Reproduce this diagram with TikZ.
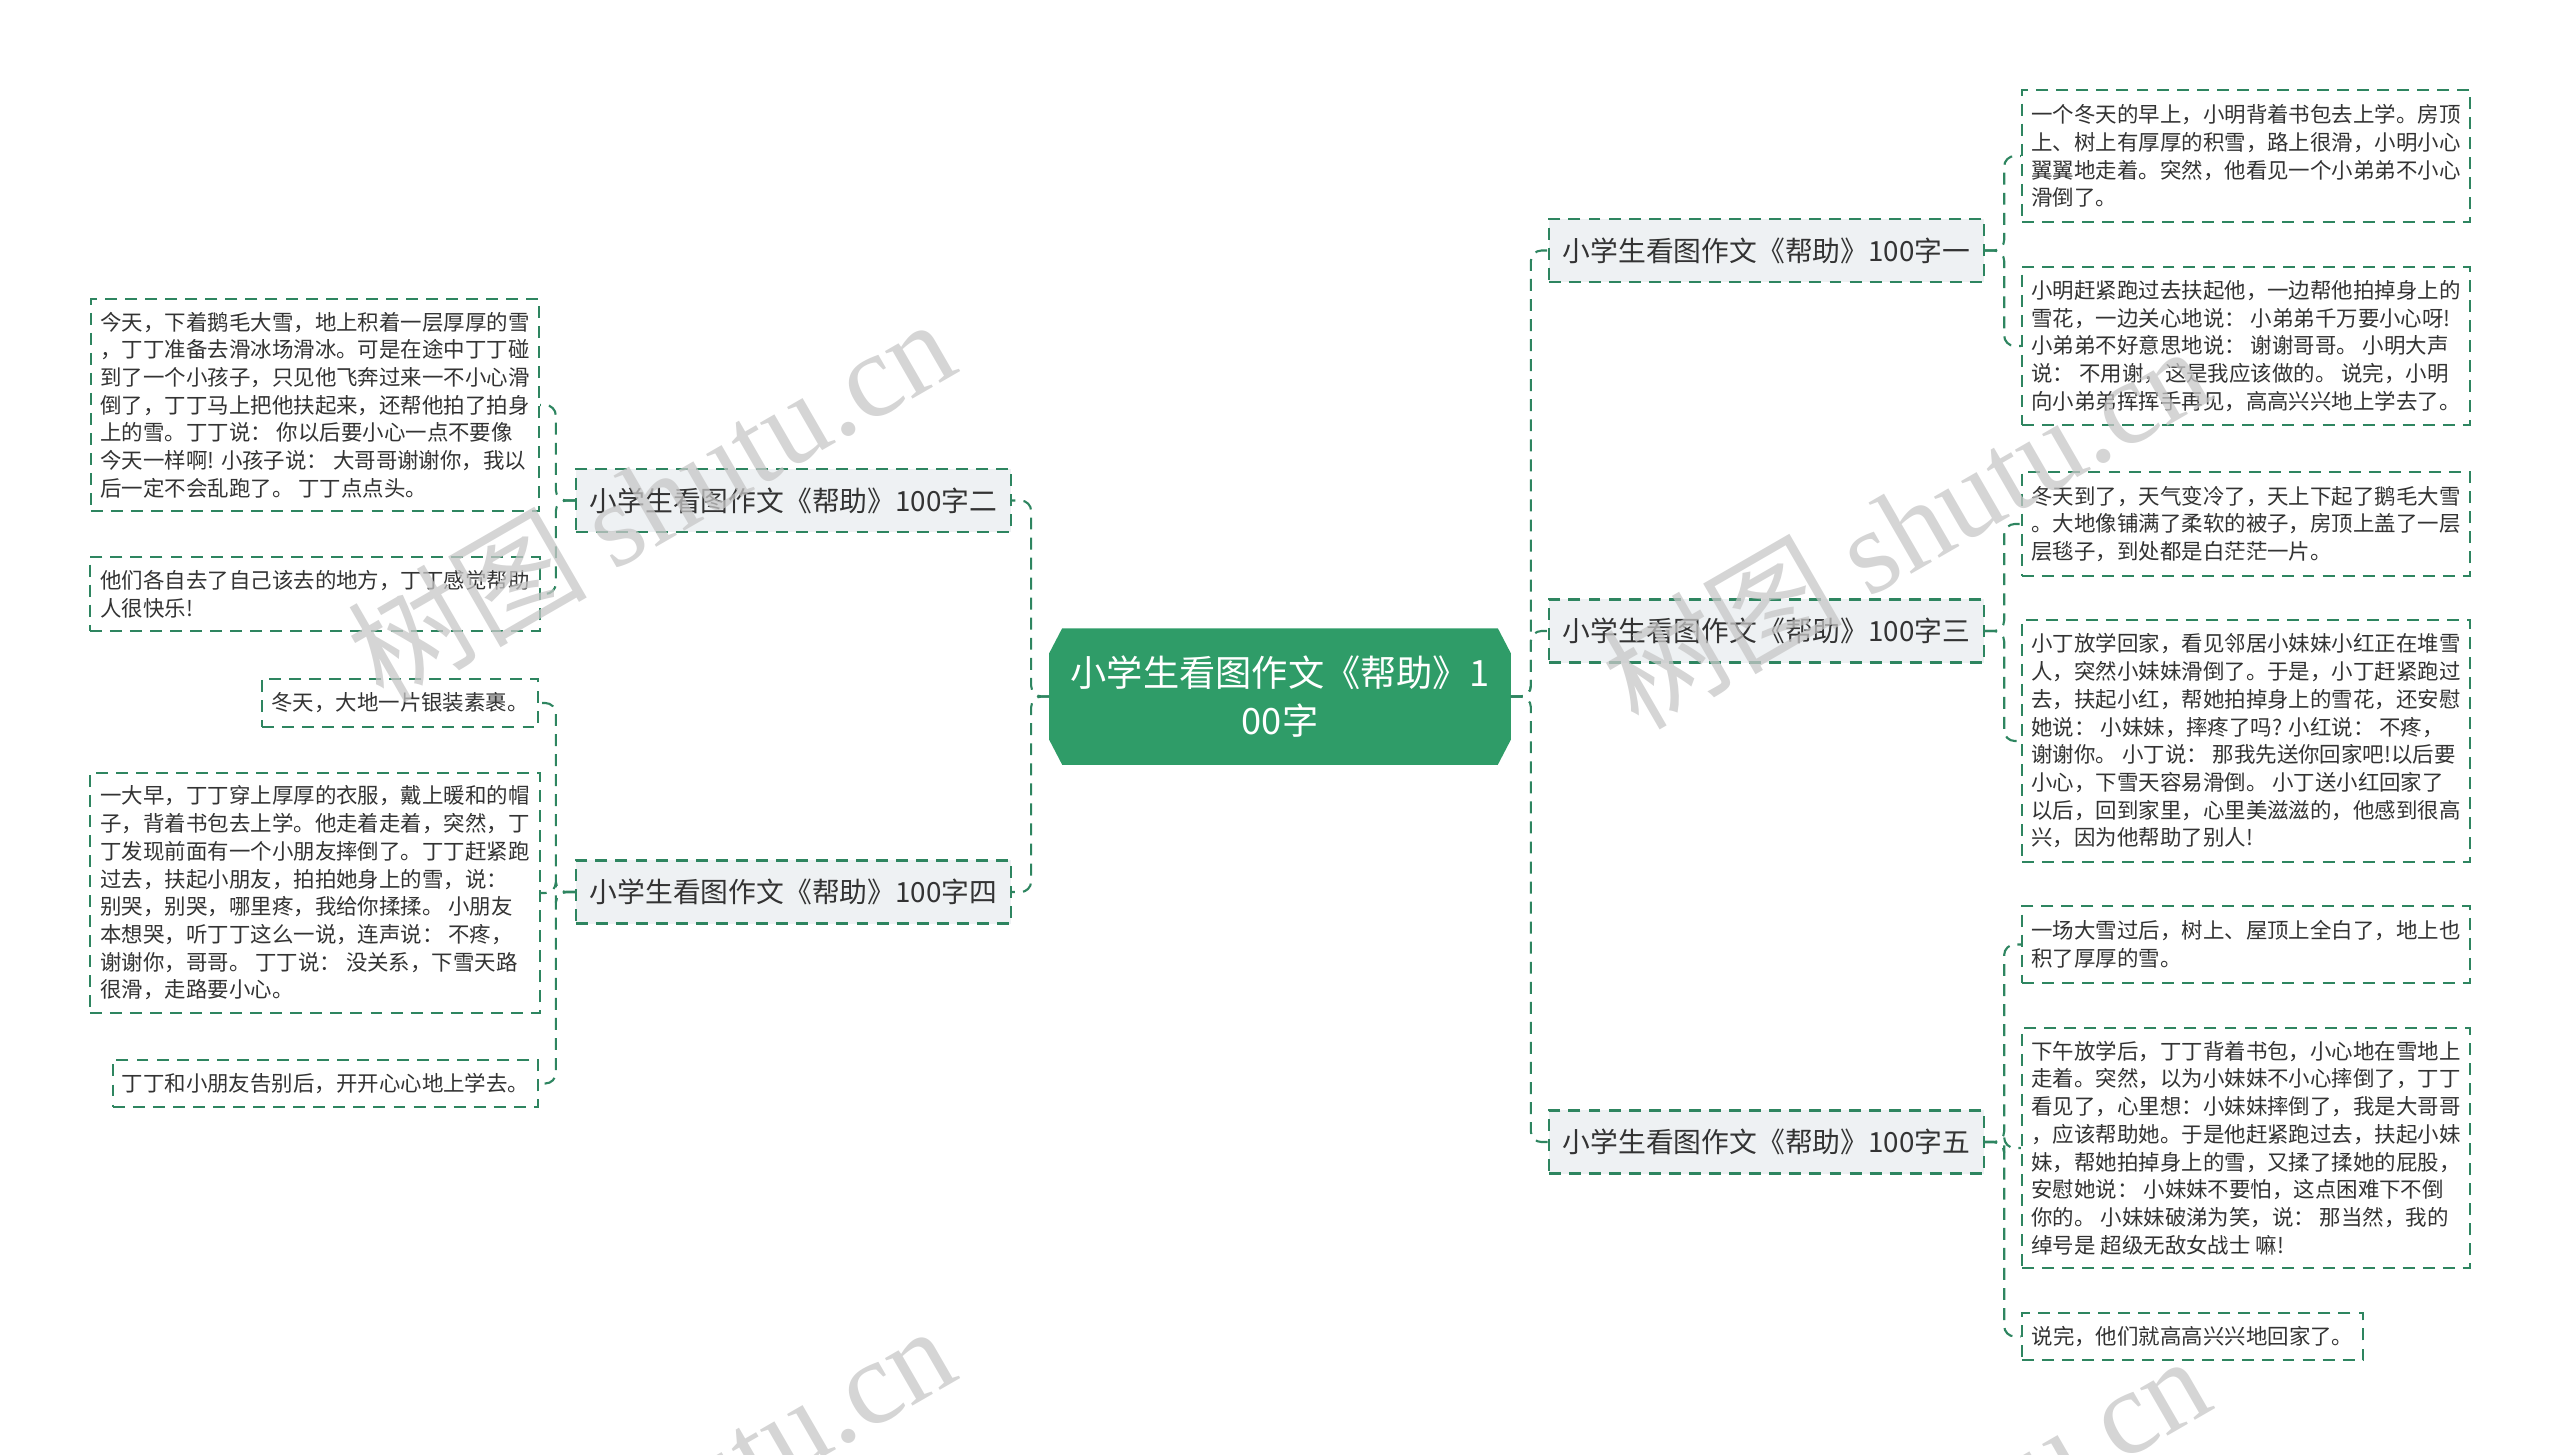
\documentclass[tikz,border=0pt]{standalone}
\usepackage{fontspec}
\setmainfont{Noto Sans CJK SC}
\newfontfamily\wmfont{Liberation Serif}
\usepackage{xcolor}
\usepackage{tikz}
\usetikzlibrary{backgrounds}
\definecolor{rootgreen}{HTML}{2F9C68}
\definecolor{linegreen}{HTML}{2E8560}
\definecolor{boxgray}{HTML}{EEF1F3}
\definecolor{textgray}{HTML}{333333}

\begin{document}
\begin{tikzpicture}[x=0.01cm,y=-0.01cm,
	dashpattern/.style={line width=0.6pt,dash pattern=on 3.4pt off 2.3pt},
	rootbox/.style={minimum width=4.6cm,minimum height=1.35cm,inner sep=0pt,align=center,text=white,font=\fontsize{10.3pt}{13.4pt}\selectfont},
	branchbox/.style={draw=linegreen,dashpattern,fill=boxgray,minimum width=4.35cm,minimum height=0.63cm,inner sep=0pt,text=textgray,font=\fontsize{7.9pt}{9pt}\selectfont},
	leafbox/.style={draw=linegreen,dashpattern,fill=white,inner sep=0pt,align=left,text=textgray,font=\fontsize{6.1pt}{7.88pt}\selectfont},
	linkline/.style={draw=linegreen,dashpattern,rounded corners=3pt},
	wmark/.style={rotate=30,text=black!22,opacity=0.75,font=\fontsize{34pt}{34pt}\selectfont}]
		\useasboundingbox (0,0) rectangle (2560,1454);
		% 绘制中心主题
		\node[rootbox] (root) at (1280,696.5) {小学生看图作文《帮助》1\\00字};
		\begin{scope}[on background layer]
			\fill[rootgreen] ([xshift=0.13cm]root.north west) -- ([xshift=-0.13cm]root.north east)
				-- ([yshift=-0.25cm]root.north east) -- ([yshift=0.25cm]root.south east)
				-- ([xshift=-0.13cm]root.south east) -- ([xshift=0.13cm]root.south west)
				-- ([yshift=0.25cm]root.south west) -- ([yshift=-0.25cm]root.north west) -- cycle;
		\end{scope}
		% 绘制分支
		\node[branchbox] (b1) at (1766.5,250.5) {小学生看图作文《帮助》100字一};
		\node[branchbox] (b2) at (793.5,500.5) {小学生看图作文《帮助》100字二};
		\node[branchbox] (b3) at (1766.5,631) {小学生看图作文《帮助》100字三};
		\node[branchbox] (b4) at (793.5,892) {小学生看图作文《帮助》100字四};
		\node[branchbox] (b5) at (1766.5,1142) {小学生看图作文《帮助》100字五};
		% 绘制左侧内容
		\node[leafbox,minimum width=4.48cm,minimum height=2.12cm] (l1) at (315,405) {今天，下着鹅毛大雪，地上积着一层厚厚的雪\\，丁丁准备去滑冰场滑冰。可是在途中丁丁碰\\到了一个小孩子，只见他飞奔过来一不小心滑\\倒了，丁丁马上把他扶起来，还帮他拍了拍身\\上的雪。丁丁说： 你以后要小心一点不要像\\今天一样啊! 小孩子说： 大哥哥谢谢你，我以\\后一定不会乱跑了。 丁丁点点头。};
		\node[leafbox,minimum width=4.5cm,minimum height=0.74cm] (l2) at (315,594) {他们各自去了自己该去的地方，丁丁感觉帮助\\人很快乐!};
		\node[leafbox,minimum width=2.76cm,minimum height=0.48cm] (l3) at (400,703) {冬天，大地一片银装素裹。};
		\node[leafbox,minimum width=4.5cm,minimum height=2.4cm] (l4) at (315,893) {一大早，丁丁穿上厚厚的衣服，戴上暖和的帽\\子，背着书包去上学。他走着走着，突然，丁\\丁发现前面有一个小朋友摔倒了。丁丁赶紧跑\\过去，扶起小朋友，拍拍她身上的雪，说：\\别哭，别哭，哪里疼，我给你揉揉。 小朋友\\本想哭，听丁丁这么一说，连声说： 不疼，\\谢谢你，哥哥。 丁丁说： 没关系，下雪天路\\很滑，走路要小心。};
		\node[leafbox,minimum width=4.25cm,minimum height=0.47cm] (l5) at (325.5,1083.5) {丁丁和小朋友告别后，开开心心地上学去。};
		% 绘制右侧内容
		\node[leafbox,minimum width=4.48cm,minimum height=1.32cm] (r1) at (2246,156) {一个冬天的早上，小明背着书包去上学。房顶\\上、树上有厚厚的积雪，路上很滑，小明小心\\翼翼地走着。突然，他看见一个小弟弟不小心\\滑倒了。};
		\node[leafbox,minimum width=4.48cm,minimum height=1.58cm] (r2) at (2246,346) {小明赶紧跑过去扶起他，一边帮他拍掉身上的\\雪花，一边关心地说： 小弟弟千万要小心呀!\\小弟弟不好意思地说： 谢谢哥哥。 小明大声\\说： 不用谢，这是我应该做的。 说完，小明\\向小弟弟挥挥手再见，高高兴兴地上学去了。};
		\node[leafbox,minimum width=4.48cm,minimum height=1.04cm] (r3) at (2246,524) {冬天到了，天气变冷了，天上下起了鹅毛大雪\\。大地像铺满了柔软的被子，房顶上盖了一层\\层毯子，到处都是白茫茫一片。};
		\node[leafbox,minimum width=4.48cm,minimum height=2.42cm] (r4) at (2246,741) {小丁放学回家，看见邻居小妹妹小红正在堆雪\\人，突然小妹妹滑倒了。于是，小丁赶紧跑过\\去，扶起小红，帮她拍掉身上的雪花，还安慰\\她说： 小妹妹，摔疼了吗? 小红说： 不疼，\\谢谢你。 小丁说： 那我先送你回家吧!以后要\\小心，下雪天容易滑倒。 小丁送小红回家了\\以后，回到家里，心里美滋滋的，他感到很高\\兴，因为他帮助了别人!};
		\node[leafbox,minimum width=4.48cm,minimum height=0.77cm] (r5) at (2246,944.5) {一场大雪过后，树上、屋顶上全白了，地上也\\积了厚厚的雪。};
		\node[leafbox,minimum width=4.48cm,minimum height=2.4cm] (r6) at (2246,1148) {下午放学后，丁丁背着书包，小心地在雪地上\\走着。突然，以为小妹妹不小心摔倒了，丁丁\\看见了，心里想：小妹妹摔倒了，我是大哥哥\\，应该帮助她。于是他赶紧跑过去，扶起小妹\\妹，帮她拍掉身上的雪，又揉了揉她的屁股，\\安慰她说： 小妹妹不要怕，这点困难下不倒\\你的。 小妹妹破涕为笑，说： 那当然，我的\\绰号是 超级无敌女战士 嘛!};
		\node[leafbox,minimum width=3.41cm,minimum height=0.47cm] (r7) at (2192.5,1336.5) {说完，他们就高高兴兴地回家了。};
		% 绘制连线
		\foreach \b in {b2,b4}
			\draw[linkline] (root.west) -- ++(-18,0) |- (\b.east);
		\foreach \b in {b1,b3,b5}
			\draw[linkline] (root.east) -- ++(20,0) |- (\b.west);
		\foreach \l in {l1,l2}
			\draw[linkline] (b2.west) -- ++(-19,0) |- (\l.east);
		\foreach \l in {l3,l4,l5}
			\draw[linkline] (b4.west) -- ++(-19,0) |- (\l.east);
		\foreach \r in {r1,r2}
			\draw[linkline] (b1.east) -- ++(19,0) |- (\r.west);
		\foreach \r in {r3,r4}
			\draw[linkline] (b3.east) -- ++(19,0) |- (\r.west);
		\foreach \r in {r5,r6,r7}
			\draw[linkline] (b5.east) -- ++(19,0) |- (\r.west);
		% 绘制水印
		\begin{scope}
			\clip (0,0) rectangle (2560,1454);
			\node[wmark] (wm1) at (650,498) {树图 {\wmfont shutu.cn}};
			\node[wmark] (wm2) at (1905,525) {树图 {\wmfont shutu.cn}};
			\node[wmark] (wm3) at (650,1505) {树图 {\wmfont shutu.cn}};
			\node[wmark] (wm4) at (1905,1535) {树图 {\wmfont shutu.cn}};
		\end{scope}
	\end{tikzpicture}
\end{document}
